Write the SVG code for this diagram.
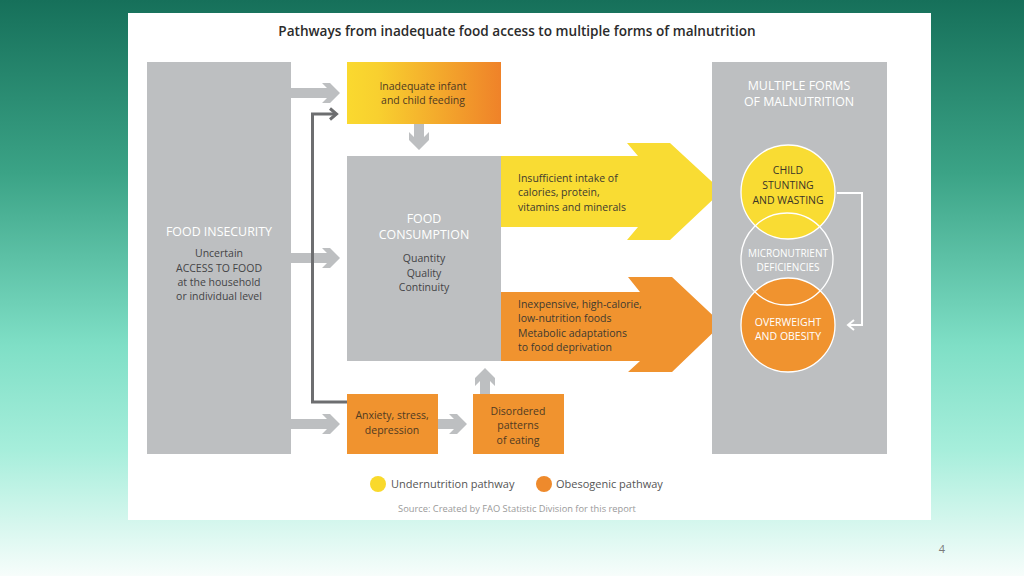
<svg xmlns="http://www.w3.org/2000/svg" width="1024" height="576" viewBox="0 0 1024 576">
<defs>
<linearGradient id="bg" x1="0" y1="0" x2="0" y2="1">
<stop offset="0" stop-color="#16705a"/>
<stop offset="0.3" stop-color="#3ba386"/>
<stop offset="0.6" stop-color="#7fdfc6"/>
<stop offset="0.78" stop-color="#a6eedb"/>
<stop offset="1" stop-color="#f7fdfb"/>
</linearGradient>
<linearGradient id="infant" x1="0" y1="0" x2="1" y2="0">
<stop offset="0" stop-color="#fad92f"/>
<stop offset="0.2" stop-color="#f8d02f"/>
<stop offset="1" stop-color="#ef8229"/>
</linearGradient>
<style>
text{font-family:"Open Sans","Noto Sans","Liberation Sans",sans-serif;}
.gray{fill:#bdbfc1;}
.yel{fill:#f9dc33;}
.org{fill:#f0932f;}
.hd{fill:#ffffff;font-size:12.4px;text-anchor:middle;}
.tx{fill:#444446;font-size:10.5px;text-anchor:middle;}
.txl{fill:#3e3a30;font-size:10.5px;}
.txb{fill:#4f3a22;font-size:10.5px;text-anchor:middle;}
.carrow{fill:#bdbfc1;}
.dark{fill:none;stroke:#6d6e70;stroke-width:3;}
.wline{fill:none;stroke:#ffffff;stroke-width:2;}
.ring{fill:none;stroke:#ffffff;stroke-width:1.3;}
</style>
</defs>
<rect x="0" y="0" width="1024" height="576" fill="url(#bg)"/>
<rect x="128" y="13" width="803" height="507" fill="#ffffff"/>
<text x="517" y="36" font-size="13.6" font-weight="600" fill="#2b2b2b" text-anchor="middle">Pathways from inadequate food access to multiple forms of malnutrition</text>

<g id="food-insecurity">
<rect class="gray" x="147" y="62" width="144" height="392"/>
<text class="hd" x="219" y="236">FOOD INSECURITY</text>
<text class="tx" x="219" y="257">Uncertain</text>
<text class="tx" x="219" y="272">ACCESS TO FOOD</text>
<text class="tx" x="219" y="286">at the household</text>
<text class="tx" x="219" y="300">or individual level</text>
</g>

<g id="infant-feeding">
<rect x="347" y="62" width="154" height="62" fill="url(#infant)"/>
<text class="txb" x="423" y="90">Inadequate infant</text>
<text class="txb" x="423" y="104">and child feeding</text>
</g>

<g id="food-consumption">
<rect class="gray" x="347" y="156" width="154" height="205"/>
<text class="hd" x="424" y="223">FOOD</text>
<text class="hd" x="424" y="239">CONSUMPTION</text>
<text class="tx" x="424" y="262">Quantity</text>
<text class="tx" x="424" y="277">Quality</text>
<text class="tx" x="424" y="291">Continuity</text>
</g>

<g id="undernutrition-arrow">
<polygon class="yel" points="501,156 638,156 627,143 670,143 722,191 670,240 627,240 638,227 501,227"/>
<text class="txl" x="518" y="182">Insufficient intake of</text>
<text class="txl" x="518" y="196">calories, protein,</text>
<text class="txl" x="518" y="211">vitamins and minerals</text>
</g>

<g id="obesogenic-arrow">
<polygon class="org" points="501,292 640,292 628,277 672,277 722,324 672,372 628,372 640,361 501,361"/>
<text class="txl" x="518" y="308">Inexpensive, high-calorie,</text>
<text class="txl" x="518" y="322">low-nutrition foods</text>
<text class="txl" x="518" y="337">Metabolic adaptations</text>
<text class="txl" x="518" y="351">to food deprivation</text>
</g>

<g id="anxiety">
<rect class="org" x="347" y="394" width="91" height="60"/>
<text class="txb" x="392" y="419">Anxiety, stress,</text>
<text class="txb" x="392" y="434">depression</text>
</g>

<g id="disordered-eating">
<rect class="org" x="473" y="394" width="91" height="60"/>
<text class="txb" x="518" y="415">Disordered</text>
<text class="txb" x="518" y="429">patterns</text>
<text class="txb" x="518" y="444">of eating</text>
</g>

<g id="malnutrition">
<rect class="gray" x="712" y="62" width="175" height="392"/>
<text class="hd" x="799" y="90">MULTIPLE FORMS</text>
<text class="hd" x="799" y="106">OF MALNUTRITION</text>
<circle cx="788" cy="192" r="47" fill="#f9dc33"/>
<circle cx="788" cy="325" r="47" fill="#f0932f"/>
<circle class="ring" cx="788" cy="192" r="47"/>
<circle class="ring" cx="787" cy="259" r="46"/>
<circle class="ring" cx="788" cy="325" r="47"/>
<text x="788" y="174" font-size="10.5" fill="#3a3428" text-anchor="middle">CHILD</text>
<text x="788" y="189" font-size="10.5" fill="#3a3428" text-anchor="middle">STUNTING</text>
<text x="788" y="204" font-size="10.5" fill="#3a3428" text-anchor="middle">AND WASTING</text>
<text x="788" y="257" font-size="10" fill="#ffffff" text-anchor="middle">MICRONUTRIENT</text>
<text x="788" y="271" font-size="10" fill="#ffffff" text-anchor="middle">DEFICIENCIES</text>
<text x="788" y="326" font-size="10.5" fill="#ffffff" text-anchor="middle">OVERWEIGHT</text>
<text x="788" y="340" font-size="10.5" fill="#ffffff" text-anchor="middle">AND OBESITY</text>
</g>

<g id="connectors">
<polygon class="carrow" points="291,88 327,88 322,83 330,83 340,93 330,103 322,103 327,98 291,98"/>
<polygon class="carrow" points="291,253 327,253 322,248 330,248 340,258 330,268 322,268 327,263 291,263"/>
<polygon class="carrow" points="291,419 327,419 322,414 330,414 340,424 330,434 322,434 327,429 291,429"/>
<polygon class="carrow" points="438,419 454,419 449,414 457,414 467,424 457,434 449,434 454,429 438,429"/>
<polygon class="carrow" points="414,124 414,137 409,132 409,140 419,150 429,140 429,132 424,137 424,124"/>
<polygon class="carrow" points="480,394 480,381 475,386 475,378 485,368 495,378 495,386 490,381 490,394"/>
<path class="dark" d="M347,402 H312.5 V114 H335"/>
<polyline class="dark" points="330,108.5 336.5,114 330,119.5"/>
<path class="wline" d="M837,193 H862 V325 H849"/>
<polyline class="wline" points="854,320 848,325 854,330"/>
</g>

<g id="legend">
<circle cx="378" cy="484" r="8" fill="#f9d92c"/>
<text x="391" y="488" font-size="11" fill="#555555">Undernutrition pathway</text>
<circle cx="544" cy="484" r="8" fill="#ee8a2c"/>
<text x="556" y="488" font-size="11" fill="#555555">Obesogenic pathway</text>
<text x="517" y="512" font-size="9.3" fill="#9a9a9a" text-anchor="middle">Source: Created by FAO Statistic Division for this report</text>
</g>
<text x="942" y="553" font-size="11" fill="#7a7a7a" text-anchor="middle">4</text>
</svg>
